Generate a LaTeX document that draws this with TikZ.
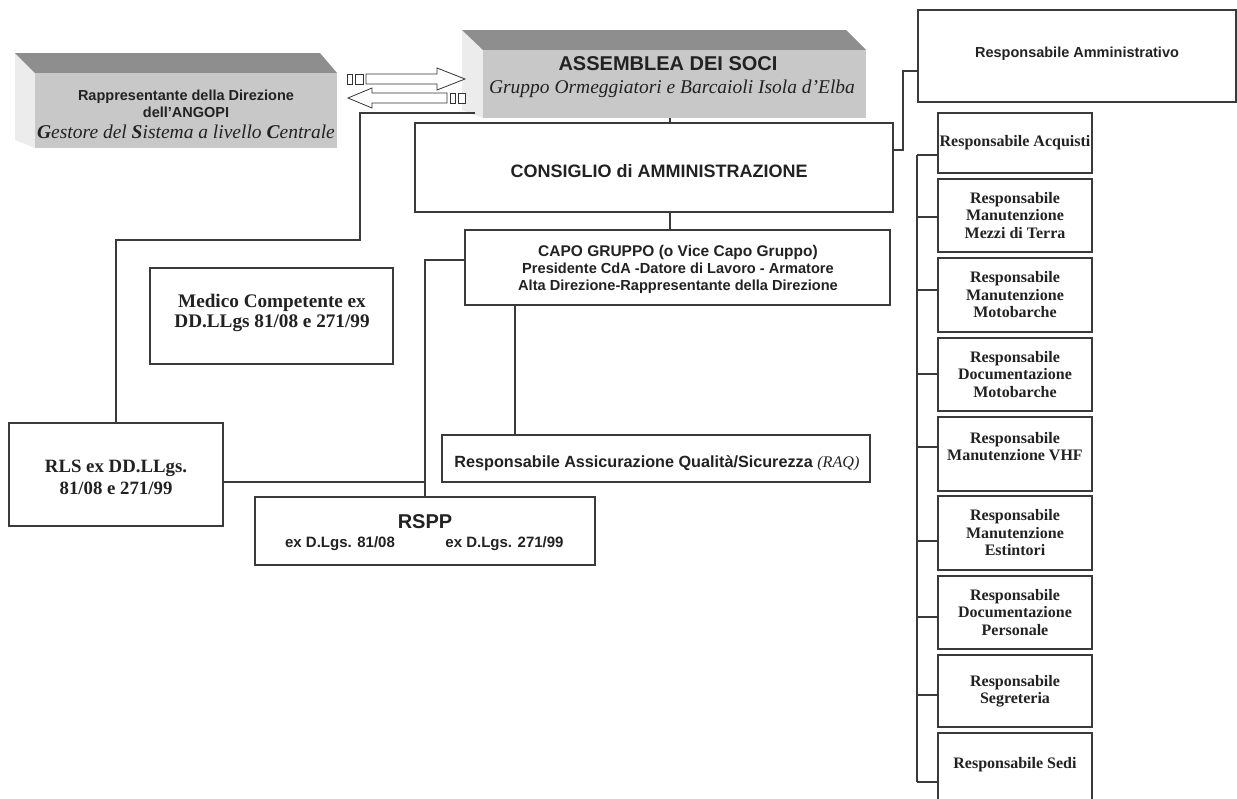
\documentclass[tikz,border=0pt]{standalone}
\usepackage{fontspec}
\setmainfont{Liberation Serif}
\setsansfont{Liberation Sans}
\usetikzlibrary{calc}
\definecolor{linec}{HTML}{3A3A3A}
\definecolor{topgray}{HTML}{8E8E8E}
\definecolor{frontgray}{HTML}{C8C8C8}
\definecolor{sidegray}{HTML}{ECECEC}
\definecolor{txtc}{HTML}{222222}
\tikzset{
  box/.style={draw=linec, line width=1.1pt, fill=white, inner sep=0pt, align=center, text=txtc},
  rbox/.style={box, minimum width=154pt, font=\rmfamily\bfseries\fontsize{16}{17.5}\selectfont},
  face/.style={fill=frontgray, inner sep=0pt},
  txt/.style={inner sep=0pt, align=center, text=txtc, anchor=base},
  conn/.style={draw=linec, line width=1.1pt},
  blockarrow/.style={draw=black!80, line width=0.8pt, fill=white},
  sb/.style={font=\sffamily\bfseries\fontsize{#1}{#1}\selectfont},
  rb/.style={font=\rmfamily\bfseries\fontsize{#1}{#1}\selectfont},
}
\begin{document}
\begin{tikzpicture}[x=1pt,y=-1pt]
\useasboundingbox (0,0) rectangle (1237,798);
\clip (0,0) rectangle (1237,798);
\fill[white] (0,0) rectangle (1237,798);

% ---------- Rappresentante (3D box)
\fill[sidegray] (15,53) -- (35,73) -- (35,148) -- (15,140) -- cycle;
\fill[topgray] (15,53) -- (320,53) -- (337,73) -- (35,73) -- cycle;
\node[face, minimum width=302pt, minimum height=75pt] (rapp) at (186,110.5) {};
\node[txt, sb=14.5] (r1) at (186,100) {Rappresentante della Direzione};
\node[txt, sb=14.5] (r2) at (186,117) {dell'ANGOPI};
\node[txt, font=\rmfamily\itshape\fontsize{19.5}{19.5}\selectfont] (r3) at (186,138)
  {{\bfseries G}estore del {\bfseries S}istema a livello {\bfseries C}entrale};

% ---------- Assemblea (3D box)
\fill[sidegray] (462,30) -- (483,50) -- (483,118) -- (462,110) -- cycle;
\fill[topgray] (462,30) -- (846,30) -- (866,50) -- (483,50) -- cycle;
\node[face, minimum width=383pt, minimum height=68pt] (assem) at (674.5,84) {};
\node[txt, sb=20] (a1) at (668,70) {ASSEMBLEA DEI SOCI};
\node[txt, font=\rmfamily\itshape\fontsize{19.5}{19.5}\selectfont] (a2) at (672,93)
  {Gruppo Ormeggiatori e Barcaioli Isola d'Elba};

% ---------- block arrows
\draw[blockarrow] (366,74) -- (437,74) -- (437,68) -- (465,79) -- (437,90) -- (437,84) -- (366,84) -- cycle;
\draw[blockarrow] (347,74) rectangle (352,84);
\draw[blockarrow] (355,74) rectangle (363,84);
\draw[blockarrow] (348,98) -- (372,88) -- (372,93) -- (447,93) -- (447,103) -- (372,103) -- (372,108) -- cycle;
\draw[blockarrow] (450,93) rectangle (455,103);
\draw[blockarrow] (458,93) rectangle (465,103);

% ---------- main boxes
\node[box, minimum width=478pt, minimum height=89pt] (cons) at (654,167.5) {};
\node[txt, sb=18] (c1) at (659,177) {CONSIGLIO di AMMINISTRAZIONE};

\node[box, minimum width=425pt, minimum height=75pt] (capo) at (677.5,267.5) {};
\node[txt, sb=15.5] (p1) at (678,256) {CAPO GRUPPO (o Vice Capo Gruppo)};
\node[txt, sb=14.6] (p2) at (678,273) {Presidente CdA -Datore di Lavoro - Armatore};
\node[txt, sb=14.6] (p3) at (678,290) {Alta Direzione-Rappresentante della Direzione};

\node[box, minimum width=243pt, minimum height=96pt] (med) at (271.5,316) {};
\node[txt, rb=19.2] (m1) at (272,307) {Medico Competente ex};
\node[txt, rb=19.2] (m2) at (272,327) {DD.LLgs 81/08 e 271/99};

\node[box, minimum width=214pt, minimum height=103pt] (rls) at (116,474.5) {};
\node[txt, rb=18.8] (l1) at (116,472) {RLS ex DD.LLgs.};
\node[txt, rb=18.8] (l2) at (116,494) {81/08 e 271/99};

\node[box, minimum width=428pt, minimum height=47pt] (raq) at (656,458.5) {};
\node[txt, sb=16.2] (q1) at (657,467) {Responsabile Assicurazione Qualit\`a/Sicurezza {\rmfamily\mdseries\itshape (RAQ)}};

\node[box, minimum width=340pt, minimum height=68pt] (rspp) at (425,531) {};
\node[txt, sb=20] (s1) at (425,528) {RSPP};
\node[txt, sb=15] (s2) at (340,547) {ex D.Lgs. 81/08};
\node[txt, sb=15] (s3) at (504.5,547) {ex D.Lgs. 271/99};

% ---------- right column
\node[box, minimum width=318pt, minimum height=92pt] (amm) at (1077,56) {};
\node[txt, sb=14.5] (am1) at (1077,57) {Responsabile Amministrativo};

\node[rbox, minimum height=60pt] (acq) at (1015,143) {Responsabile Acquisti};
\node[rbox, minimum height=73pt] (mez) at (1015,215.5) {Responsabile\\Manutenzione\\Mezzi di Terra};
\node[rbox, minimum height=74pt] (mmb) at (1015,295) {Responsabile\\Manutenzione\\Motobarche};
\node[rbox, minimum height=73pt] (dmb) at (1015,374.5) {Responsabile\\Documentazione\\Motobarche};
\node[rbox, minimum height=74pt] (vhf) at (1015,454) {Responsabile\\Manutenzione VHF\\[-2pt]};
\node[rbox, minimum height=74pt] (est) at (1015,533) {Responsabile\\Manutenzione\\Estintori};
\node[rbox, minimum height=73pt] (dpe) at (1015,612.5) {Responsabile\\Documentazione\\Personale};
\node[rbox, minimum height=72pt] (seg) at (1015,691) {Responsabile\\Segreteria};
\node[rbox, minimum height=67pt] (sed) at (1015,766.5) {Responsabile Sedi\\[-10pt]};

% ---------- connector helper coordinates
\coordinate (assemL) at (475,113);
\coordinate (k1) at (360,240);
\coordinate (k2) at (670,0);
\coordinate (k3) at (903,150);
\coordinate (k4) at (903,71);
\coordinate (k5) at (425,260);
\coordinate (k6) at (425,482);
\coordinate (k7) at (515,0);
\coordinate (bt) at (917,155);
\coordinate (bb) at (917,782);
\coordinate (y2) at (0,217);
\coordinate (y3) at (0,290);
\coordinate (y4) at (0,374);
\coordinate (y5) at (0,447);
\coordinate (y6) at (0,541);
\coordinate (y7) at (0,617);
\coordinate (y8) at (0,695);

% ---------- connectors
\draw[conn] (assemL) -| (k1) -| (rls.north);
\draw[conn] (assem.south -| k2) -- (cons.north -| k2);
\draw[conn] (cons.south -| k2) -- (capo.north -| k2);
\draw[conn] (cons.east |- k3) -- (k3) -- (k4) -- (amm.west |- k4);
\draw[conn] (capo.west |- k5) -- (k5) -- (rspp.north);
\draw[conn] (rls.east |- k6) -- (k6);
\draw[conn] (capo.south -| k7) -- (raq.north -| k7);

\draw[conn] (bt) -- (bb);
\draw[conn] (bt) -- (acq.west |- bt);
\draw[conn] (bt |- y2) -- (mez.west |- y2);
\draw[conn] (bt |- y3) -- (mmb.west |- y3);
\draw[conn] (bt |- y4) -- (dmb.west |- y4);
\draw[conn] (bt |- y5) -- (vhf.west |- y5);
\draw[conn] (bt |- y6) -- (est.west |- y6);
\draw[conn] (bt |- y7) -- (dpe.west |- y7);
\draw[conn] (bt |- y8) -- (seg.west |- y8);
\draw[conn] (bb) -- (sed.west |- bb);
\end{tikzpicture}
\end{document}
